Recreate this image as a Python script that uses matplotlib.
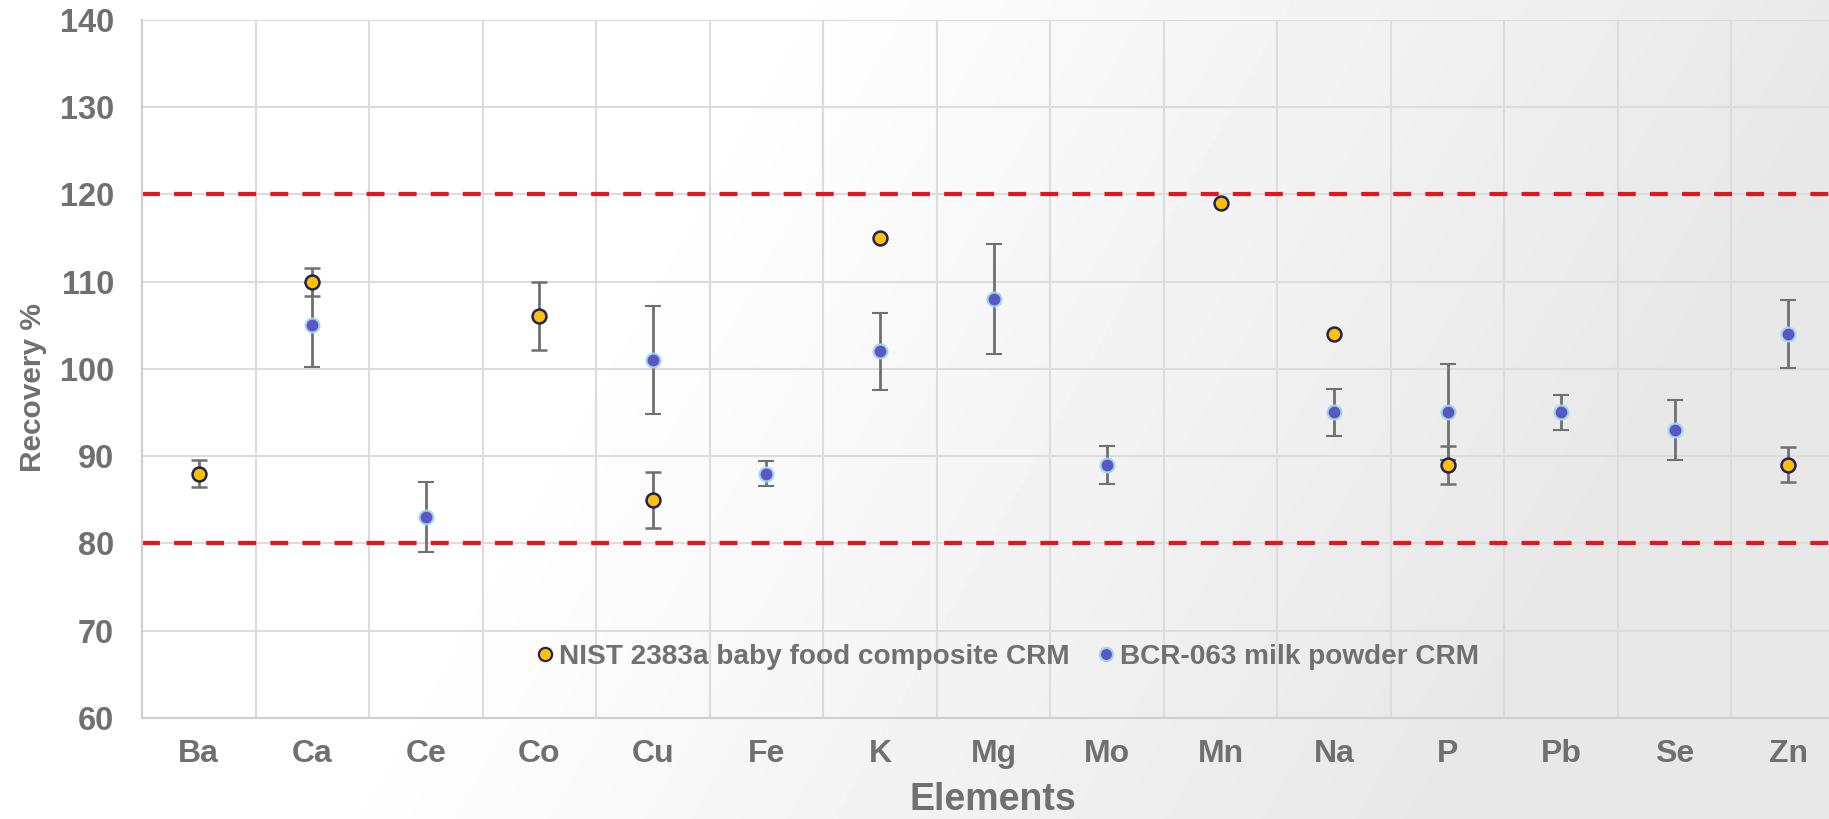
import numpy as np
import matplotlib
matplotlib.use("Agg")
import matplotlib.pyplot as plt
from matplotlib.lines import Line2D

plt.rcParams['font.family'] = ['Liberation Sans', 'DejaVu Sans']
plt.rcParams['font.weight'] = 'bold'

# recovery data per element (nan = not measured / no error bar)
elements = ['Ba', 'Ca', 'Ce', 'Co', 'Cu', 'Fe', 'K', 'Mg', 'Mo', 'Mn', 'Na', 'P', 'Pb', 'Se', 'Zn']
nist = [88, 110, np.nan, 106, 85, np.nan, 115, np.nan, np.nan, 119, 104, 89, np.nan, np.nan, 89]
nist_err = [1.6, 1.6, np.nan, 3.9, 3.2, np.nan, np.nan, np.nan, np.nan, np.nan, np.nan, 2.2, np.nan, np.nan, 2.0]
bcr = [np.nan, 105, 83, np.nan, 101, 88, 102, 108, 89, np.nan, 95, 95, 95, 93, 104]
bcr_err = [np.nan, 4.8, 4.0, np.nan, 6.2, 1.45, 4.45, 6.25, 2.15, np.nan, 2.7, 5.5, 2.0, 3.4, 3.9]
limits = [80, 120]

txt = '#707070'
W, H = 1829, 819
fig = plt.figure(figsize=(W / 100, H / 100), dpi=100)

# soft diagonal grey wash behind everything
bg = fig.add_axes([0, 0, 1, 1], zorder=-10)
xx, yy = np.meshgrid(np.linspace(0, 1, 400), np.linspace(1, 0, 200))
u = np.clip((xx - 0.42 + 0.25 * (1 - yy)) / 0.6, 0, 1)
shade = 1 - 0.09 * u
bg.imshow(shade, cmap='gray', vmin=0, vmax=1, aspect='auto', extent=[0, 1, 0, 1])
bg.axis('off')

ax = fig.add_axes([142 / W, 1 - 717.8 / H, (1845 - 142) / W, (717.8 - 19.8) / H])
ax.set_facecolor('none')

x = np.arange(len(elements))

# acceptance limits
for lim in limits:
    ax.axhline(lim, color='#e8141b', lw=3, ls=(0, (4.3, 3.4)), zorder=2, clip_on=False)

ax.errorbar(x, bcr, yerr=bcr_err, fmt='o', ms=10, mfc='#5b55c9', mec='#9fd8e2', mew=1.5,
            ecolor='#707070', elinewidth=2, capsize=5.5, capthick=2, zorder=3)
ax.errorbar(x, nist, yerr=nist_err, fmt='o', ms=10, mfc='#ffc000', mec='#23215e', mew=1.8,
            ecolor='#707070', elinewidth=2, capsize=5.5, capthick=2, zorder=4)

ax.set_xlim(-0.5, len(elements) - 0.5)
ax.set_ylim(60, 140)
ax.set_yticks(np.arange(60, 141, 10))
ax.set_xticks(x)
ax.set_xticklabels(elements)
ax.set_xticks(np.arange(0.5, len(elements) - 0.5, 1), minor=True)
ax.grid(True, which='major', axis='y', color='#dcdcdc', lw=1.5, zorder=0)
ax.grid(True, which='minor', axis='x', color='#dcdcdc', lw=1.5, zorder=0)
ax.tick_params(which='both', length=0)
ax.tick_params(axis='y', labelsize=23.5, labelcolor=txt, pad=20)
ax.tick_params(axis='x', labelsize=23, labelcolor=txt, pad=15)
for s in ['top', 'right']:
    ax.spines[s].set_visible(False)
for s in ['left', 'bottom']:
    ax.spines[s].set_color('#cfcfcf')
    ax.spines[s].set_linewidth(1.5)

fig.text(33 / W, 1 - 388 / H, 'Recovery %', rotation=90, ha='center', va='center',
         fontsize=21.5, color=txt, fontweight='bold')
fig.text(993 / W, 1 - 800 / H, 'Elements', ha='center', va='center',
         fontsize=27, color=txt, fontweight='bold')

handles = [
    Line2D([], [], ls='none', marker='o', ms=9.5, mfc='#ffc000', mec='#23215e', mew=1.6),
    Line2D([], [], ls='none', marker='o', ms=9.5, mfc='#5b55c9', mec='#9fd8e2', mew=1.6),
]
labels = ['NIST 2383a baby food composite CRM', 'BCR-063 milk powder CRM']
leg = fig.legend(handles, labels, loc='center', bbox_to_anchor=(1008 / W, 1 - 657 / H),
                 ncol=2, frameon=False, handlelength=0.6, handletextpad=0.2,
                 columnspacing=1.0, prop={'size': 20.2, 'weight': 'bold'})
for t in leg.get_texts():
    t.set_color(txt)

fig.savefig('out.png', dpi=100)
